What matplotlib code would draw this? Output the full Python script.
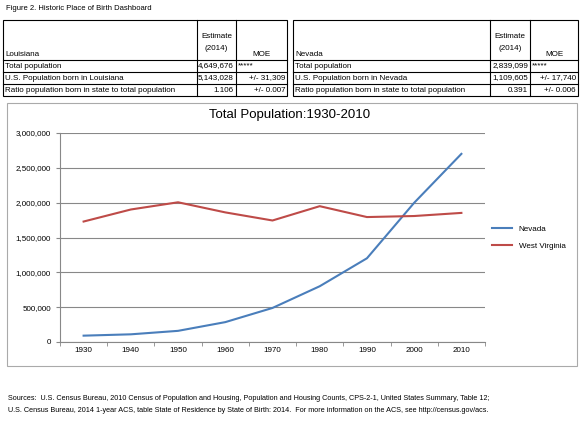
import matplotlib
matplotlib.use("Agg")
import matplotlib.pyplot as plt
from matplotlib.patches import Rectangle
from matplotlib.ticker import FuncFormatter, FixedLocator

years = [1930, 1940, 1950, 1960, 1970, 1980, 1990, 2000, 2010]
nevada = [91058, 110247, 160083, 285278, 488738, 800493, 1201833, 1998257, 2700551]
west_virginia = [1729205, 1901974, 2005552, 1860421, 1744237, 1949644, 1793477, 1808344, 1852994]

la_rows = [["Total population", "4,649,676", "*****"],
           ["U.S. Population born in Louisiana", "5,143,028", "+/- 31,309"],
           ["Ratio population born in state to total population", "1.106", "+/- 0.007"]]
nv_rows = [["Total population", "2,839,099", "*****"],
           ["U.S. Population born in Nevada", "1,109,605", "+/- 17,740"],
           ["Ratio population born in state to total population", "0.391", "+/- 0.006"]]

W, H = 580, 422
fig = plt.figure(figsize=(W/100, H/100), dpi=100)
plt.rcParams['font.family'] = ['Liberation Sans', 'DejaVu Sans']

def fx(x): return x / W
def fy(y): return 1 - y / H

def rect(x0, y0, x1, y1, lw=0.8, ec='black'):
    fig.add_artist(Rectangle((fx(x0), fy(y1)), fx(x1) - fx(x0), fy(y0) - fy(y1),
                             transform=fig.transFigure, fill=False, lw=lw, ec=ec))

fig.text(fx(6), fy(8), "Figure 2. Historic Place of Birth Dashboard", fontsize=5.5, va='center')

def table(x0, c1, c2, x1, title, rows):
    ys = [20, 60, 72, 84, 96]
    rect(x0, ys[0], x1, ys[-1])
    for y in ys[1:-1]:
        fig.add_artist(plt.Line2D([fx(x0), fx(x1)], [fy(y), fy(y)], transform=fig.transFigure, lw=0.8, c='black'))
    for c in (c1, c2):
        fig.add_artist(plt.Line2D([fx(c), fx(c)], [fy(20), fy(96)], transform=fig.transFigure, lw=0.8, c='black'))
    fs = 5.8
    fig.text(fx(x0 + 2), fy(54), title, fontsize=fs, va='center')
    fig.text(fx((c1 + c2) / 2), fy(36), "Estimate", fontsize=fs, va='center', ha='center')
    fig.text(fx((c1 + c2) / 2), fy(48), "(2014)", fontsize=fs, va='center', ha='center')
    fig.text(fx((c2 + x1) / 2), fy(54), "MOE", fontsize=fs, va='center', ha='center')
    for i, (lab, est, moe) in enumerate(rows):
        yc = 66 + 12 * i
        fig.text(fx(x0 + 2), fy(yc), lab, fontsize=fs, va='center')
        fig.text(fx(c2 - 2), fy(yc), est, fontsize=fs, va='center', ha='right')
        if moe.startswith('*'):
            fig.text(fx(c2 + 2), fy(yc), moe, fontsize=fs, va='center', ha='left')
        else:
            fig.text(fx(x1 - 2), fy(yc), moe, fontsize=fs, va='center', ha='right')

table(3, 197, 236, 287, "Louisiana", la_rows)
table(293, 490, 530, 578, "Nevada", nv_rows)

rect(7, 103, 577, 366, lw=0.8, ec='#aaaaaa')
fig.text(fx(290), fy(115), "Total Population:1930-2010", fontsize=9.5, ha='center', va='center')

ax = fig.add_axes([fx(60), fy(342), fx(485) - fx(60), fy(133) - fy(342)])
ax.plot(years, nevada, color='#4a7ebb', lw=1.5, label='Nevada')
ax.plot(years, west_virginia, color='#be4b48', lw=1.5, label='West Virginia')
ax.set_ylim(0, 3000000)
ax.set_xlim(1925, 2015)
ax.set_xticks(years)
ax.xaxis.set_minor_locator(FixedLocator([y - 5 for y in years] + [2015]))
ax.tick_params(axis='x', which='major', length=0)
ax.tick_params(axis='x', which='minor', length=3, color='#888888')
ax.set_yticks(range(0, 3000001, 500000))
ax.yaxis.set_major_formatter(FuncFormatter(lambda v, p: f"{int(v):,}"))
ax.grid(axis='y', color='#888888', lw=0.8)
ax.set_axisbelow(True)
for s in ('top', 'right'):
    ax.spines[s].set_visible(False)
ax.spines['left'].set_color('#888888')
ax.spines['bottom'].set_color('#888888')
ax.tick_params(axis='y', length=3, color='#888888')
ax.tick_params(labelsize=5.8)
ax.legend(loc='center left', bbox_to_anchor=(1.0, 0.5), frameon=False, fontsize=5.8,
          handlelength=2.5, labelspacing=1.2)

fig.text(fx(8), fy(398), "Sources:  U.S. Census Bureau, 2010 Census of Population and Housing, Population and Housing Counts, CPS-2-1, United States Summary, Table 12;",
         fontsize=5.2, va='center')
fig.text(fx(8), fy(410), "U.S. Census Bureau, 2014 1-year ACS, table State of Residence by State of Birth: 2014.  For more information on the ACS, see http://census.gov/acs.",
         fontsize=5.2, va='center')

fig.savefig("out.png", dpi=100)
